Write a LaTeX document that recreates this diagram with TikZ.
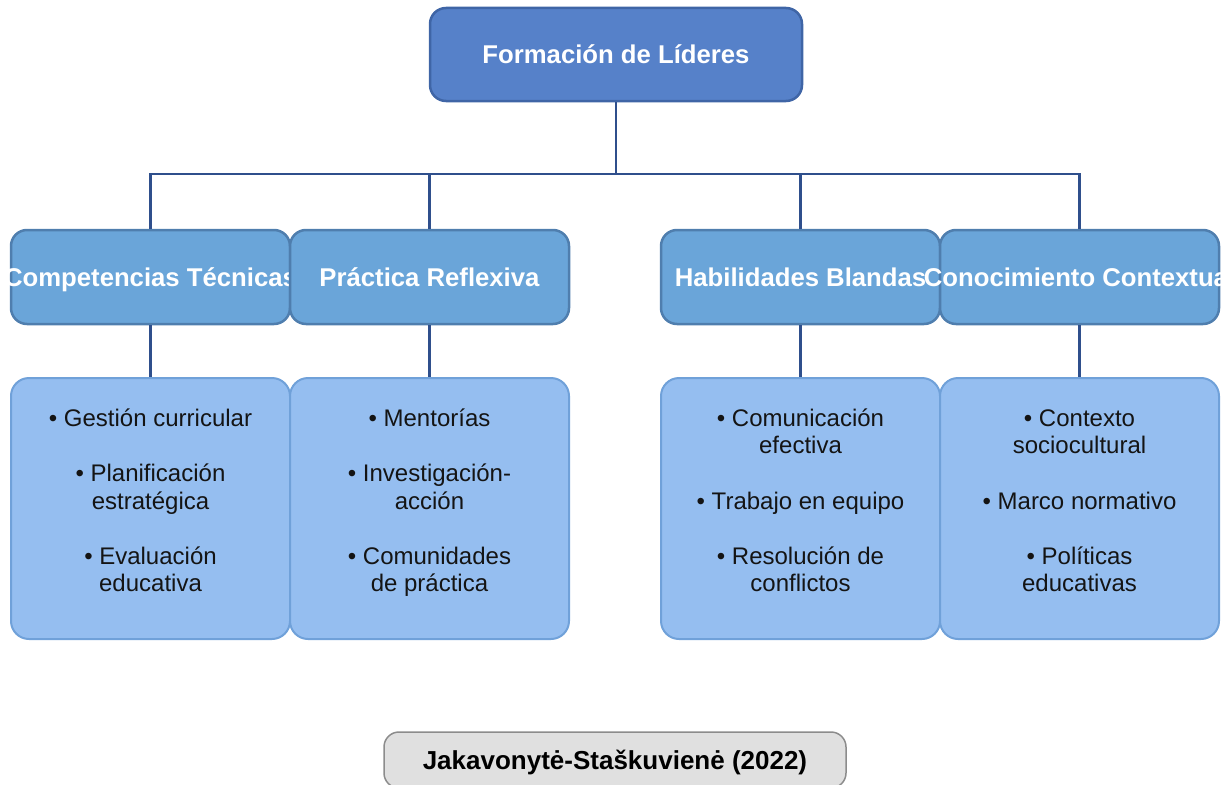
\documentclass[tikz,border=0pt]{standalone}
\usepackage{fontspec}
\setmainfont{Liberation Sans}
\usetikzlibrary{positioning}
\definecolor{leadfill}{HTML}{5681C9}
\definecolor{leaddraw}{HTML}{3F65A6}
\definecolor{headfill}{HTML}{6AA5D9}
\definecolor{headdraw}{HTML}{4F7EAE}
\definecolor{itemfill}{HTML}{95BEF0}
\definecolor{itemdraw}{HTML}{70A1D9}
\definecolor{linkcol}{HTML}{2F4F8C}
\definecolor{srcfill}{HTML}{E0E0E0}
\definecolor{srcdraw}{HTML}{8C8C8C}
\tikzset{lead/.style={rectangle,rounded corners=16pt,draw=leaddraw,line width=2.5pt,fill=leadfill,minimum width=372pt,minimum height=93pt,inner sep=0pt,text=white,font=\fontsize{25.7}{29}\selectfont\bfseries,text height=18.5pt,text depth=0pt}}
\tikzset{head/.style={lead,draw=headdraw,fill=headfill,minimum width=279pt,minimum height=94pt}}
\tikzset{itembox/.style={rectangle,rounded corners=18pt,draw=itemdraw,line width=2pt,fill=itemfill,minimum width=279pt,minimum height=261pt}}
\tikzset{itemtext/.style={align=center,inner sep=0pt,text=black!92,font=\fontsize{24}{27.6}\selectfont}}
\tikzset{link/.style={draw=linkcol,line width=2.5pt}}
\tikzset{source/.style={rectangle,rounded corners=15pt,draw=srcdraw,line width=1.5pt,fill=srcfill,minimum width=462pt,minimum height=56pt,inner sep=0pt,text=black,font=\fontsize{26}{29}\selectfont\bfseries,text height=18pt,text depth=0pt}}

\begin{document}
\begin{tikzpicture}[x=1pt,y=-1pt]
	\useasboundingbox (0,0) rectangle (1225,784);
	%% top
	\node[lead] (lead) at (616,54.5) {Formación de Líderes};
	\coordinate (bus) at (0,174);
	%% headers
	\node[head] (tec) at (150.5,277) {\makebox[0pt]{Competencias Técnicas}};
	\node[head] (ref) at (429.5,277) {\makebox[0pt]{Práctica Reflexiva}};
	\node[head] (bla) at (800.5,277) {\makebox[0pt]{Habilidades Blandas}};
	\node[head] (ctx) at (1079.5,277) {\makebox[0pt]{Conocimiento Contextual}};
	%% item boxes
	\node[itembox] (tec-i) at (150.5,508.5) {};
	\node[itembox] (ref-i) at (429.5,508.5) {};
	\node[itembox] (bla-i) at (800.5,508.5) {};
	\node[itembox] (ctx-i) at (1079.5,508.5) {};
	\node[itemtext,below=29.7pt of tec-i.north] (tec-t) {\strut• Gestión curricular\\[27.6pt]• Planificación\\estratégica\\[27.6pt]• Evaluación\\educativa};
	\node[itemtext,below=29.7pt of ref-i.north] (ref-t) {\strut• Mentorías\\[27.6pt]• Investigación-\\acción\\[27.6pt]• Comunidades\\de práctica};
	\node[itemtext,below=29.7pt of bla-i.north] (bla-t) {\strut• Comunicación\\efectiva\\[27.6pt]• Trabajo en equipo\\[27.6pt]• Resolución de\\conflictos};
	\node[itemtext,below=29.7pt of ctx-i.north] (ctx-t) {\strut• Contexto\\sociocultural\\[27.6pt]• Marco normativo\\[27.6pt]• Políticas\\educativas};
	%% links
	\foreach \h in {tec,ref,bla,ctx} {
		\draw[link] (lead.south) |- (\h.north |- bus) -- (\h.north);
		\draw[link] (\h.south) -- (\h-i.north);
	}
	%% source
	\node[source] (src) at (615,760) {Jakavonytė-Staškuvienė (2022)};
\end{tikzpicture}
\end{document}
